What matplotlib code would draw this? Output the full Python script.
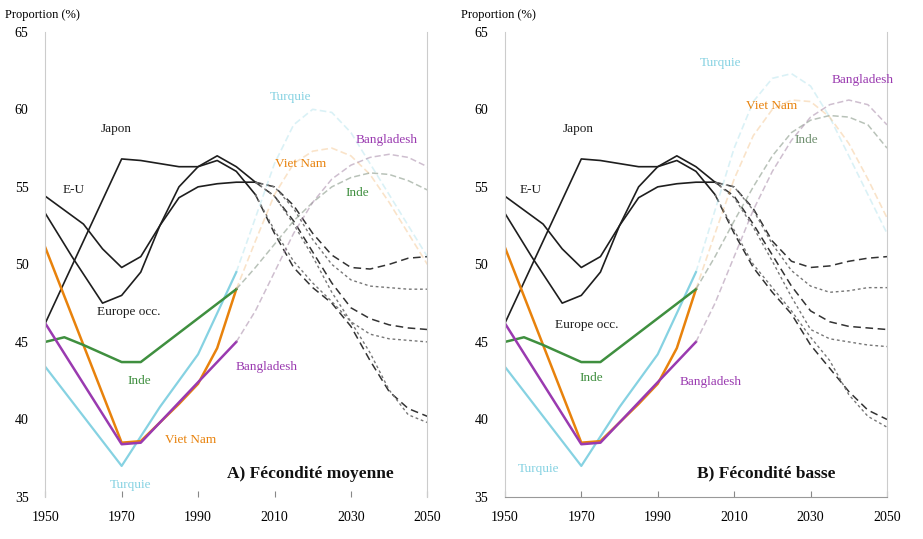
import matplotlib
matplotlib.use("Agg")
import matplotlib.pyplot as plt

plt.rcParams["font.family"] = ["Liberation Serif", "DejaVu Serif"]

# --- observed values (same in both panels) ---
eu_years = [1950, 1960, 1965, 1970, 1975, 1980, 1985, 1990, 1995, 2000, 2005]
eu_vals = [54.4, 52.6, 51.0, 49.8, 50.5, 52.5, 54.3, 55.0, 55.2, 55.3, 55.3]

eur_years = [1950, 1957, 1965, 1970, 1975, 1980, 1985, 1990, 1995, 2000, 2005]
eur_vals = [53.3, 50.5, 47.5, 48.0, 49.5, 52.5, 55.0, 56.3, 57.0, 56.3, 55.3]

jap_years = [1950, 1960, 1970, 1975, 1980, 1985, 1990, 1995, 2000, 2005]
jap_vals = [46.2, 51.5, 56.8, 56.7, 56.5, 56.3, 56.3, 56.7, 56.0, 54.5]

tur_years = [1950, 1970, 1980, 1990, 2000]
tur_vals = [43.4, 37.0, 40.8, 44.2, 49.5]

vn_years = [1950, 1970, 1975, 1985, 1990, 1995, 2000]
vn_vals = [51.1, 38.5, 38.6, 41.0, 42.3, 44.6, 48.4]

inde_years = [1950, 1955, 1960, 1970, 1975, 2000]
inde_vals = [45.0, 45.3, 44.8, 43.7, 43.7, 48.4]

bang_years = [1950, 1970, 1975, 2000]
bang_vals = [46.2, 38.4, 38.5, 45.0]

# --- projections ---
proj_years = [2005, 2010, 2015, 2020, 2025, 2030, 2035, 2040, 2045, 2050]
col_years = [2000, 2005, 2010, 2015, 2020, 2025, 2030, 2035, 2040, 2045, 2050]

# panel A : fecondite moyenne
a_eu_1 = [55.3, 55.0, 53.8, 52.0, 50.6, 49.8, 49.7, 50.0, 50.4, 50.5]
a_eu_2 = [55.3, 55.0, 53.6, 51.6, 50.0, 49.0, 48.6, 48.5, 48.4, 48.4]
a_eur_1 = [55.3, 54.4, 52.8, 50.8, 48.8, 47.2, 46.5, 46.1, 45.9, 45.8]
a_eur_2 = [55.3, 54.4, 52.6, 50.5, 48.2, 46.3, 45.5, 45.2, 45.1, 45.0]
a_jap_1 = [54.5, 52.0, 49.8, 48.5, 47.5, 46.0, 43.8, 41.8, 40.7, 40.2]
a_jap_2 = [54.5, 52.2, 50.2, 48.8, 47.6, 46.3, 44.3, 41.9, 40.3, 39.8]
a_tur = [49.5, 53.0, 56.5, 59.0, 60.0, 59.8, 58.5, 56.5, 54.5, 52.5, 50.5]
a_vn = [48.4, 51.5, 54.5, 56.5, 57.3, 57.5, 57.0, 55.8, 54.0, 52.0, 50.0]
a_inde = [48.4, 49.8, 51.3, 52.8, 54.0, 55.0, 55.6, 55.9, 55.8, 55.4, 54.8]
a_bang = [45.0, 47.0, 49.5, 52.0, 54.0, 55.5, 56.4, 56.9, 57.1, 56.9, 56.3]

# panel B : fecondite basse
b_eu_1 = [55.3, 55.0, 53.6, 51.5, 50.2, 49.8, 49.9, 50.2, 50.4, 50.5]
b_eu_2 = [55.3, 55.0, 53.5, 51.3, 49.6, 48.6, 48.2, 48.3, 48.5, 48.5]
b_eur_1 = [55.3, 54.4, 52.6, 50.6, 48.6, 47.0, 46.3, 46.0, 45.9, 45.8]
b_eur_2 = [55.3, 54.3, 52.4, 50.2, 47.9, 45.8, 45.2, 45.0, 44.8, 44.7]
b_jap_1 = [54.5, 52.0, 49.8, 48.2, 46.8, 44.8, 43.3, 41.8, 40.6, 40.0]
b_jap_2 = [54.5, 52.2, 50.0, 48.5, 47.0, 45.3, 43.8, 41.6, 40.2, 39.5]
b_tur = [49.5, 53.5, 57.5, 60.5, 62.0, 62.3, 61.5, 59.5, 57.0, 54.5, 52.0]
b_vn = [48.4, 52.0, 55.5, 58.3, 60.0, 60.6, 60.5, 59.5, 57.8, 55.5, 53.0]
b_inde = [48.4, 50.5, 52.8, 55.0, 57.0, 58.5, 59.3, 59.6, 59.5, 59.0, 57.5]
b_bang = [45.0, 47.5, 50.5, 53.5, 56.0, 58.0, 59.5, 60.3, 60.6, 60.3, 59.0]

x_ticks = [1950, 1970, 1990, 2010, 2030, 2050]
y_ticks = [35, 40, 45, 50, 55, 60, 65]

c_tur = "#86d2e2"
c_vn = "#e8820c"
c_inde = "#3f8f3f"
c_bang = "#9a3ab0"
c_black = "#1e1e1e"


def draw_panel(ax, proj, labels, title):
    # observed
    ax.plot(eu_years, eu_vals, color=c_black, lw=1.2)
    ax.plot(eur_years, eur_vals, color=c_black, lw=1.2)
    ax.plot(jap_years, jap_vals, color=c_black, lw=1.2)
    ax.plot(tur_years, tur_vals, color=c_tur, lw=1.6)
    ax.plot(vn_years, vn_vals, color=c_vn, lw=1.8)
    ax.plot(inde_years, inde_vals, color=c_inde, lw=1.8)
    ax.plot(bang_years, bang_vals, color=c_bang, lw=1.8)

    # projections of black series
    for k in ["eu", "eur", "jap"]:
        ax.plot(proj_years, proj[k + "_1"], color="#333333", lw=1.1, ls=(0, (5, 3)))
        ax.plot(proj_years, proj[k + "_2"], color="#777777", lw=1.0, ls=(0, (2, 2)))

    # projections of coloured series (pale)
    ax.plot(col_years, proj["tur"], color=c_tur, lw=1.2, ls=(0, (4, 2)), alpha=0.3)
    ax.plot(col_years, proj["vn"], color=c_vn, lw=1.2, ls=(0, (4, 2)), alpha=0.22)
    ax.plot(col_years, proj["inde"], color="#8a9a8a", lw=1.1, ls=(0, (4, 2)), alpha=0.6)
    ax.plot(col_years, proj["bang"], color="#a78aa8", lw=1.1, ls=(0, (4, 2)), alpha=0.55)

    for txt, x, y, col in labels:
        ax.text(x, y, txt, color=col, fontsize=9.5, va="center", ha="left")

    ax.text(title[1], title[2], title[0], fontsize=12.5, fontweight="bold",
            va="center", ha="left", color="#111111")

    ax.set_xlim(1950, 2050)
    ax.set_ylim(35, 65)
    ax.set_xticks(x_ticks)
    ax.set_yticks(y_ticks)
    ax.tick_params(axis="x", direction="in", length=4, color="#888888",
                   labelsize=10, pad=10)
    ax.tick_params(axis="y", length=0, labelsize=10, pad=12)
    ax.spines["top"].set_visible(False)
    for s in ["left", "right", "bottom"]:
        ax.spines[s].set_color("#cccccc")
        ax.spines[s].set_linewidth(0.8)


fig = plt.figure(figsize=(9.23, 5.39), dpi=100)
ax1 = fig.add_axes([0.049, 0.078, 0.414, 0.863])
ax2 = fig.add_axes([0.547, 0.078, 0.414, 0.863])

proj_a = {"eu_1": a_eu_1, "eu_2": a_eu_2, "eur_1": a_eur_1, "eur_2": a_eur_2,
          "jap_1": a_jap_1, "jap_2": a_jap_2, "tur": a_tur, "vn": a_vn,
          "inde": a_inde, "bang": a_bang}
proj_b = {"eu_1": b_eu_1, "eu_2": b_eu_2, "eur_1": b_eur_1, "eur_2": b_eur_2,
          "jap_1": b_jap_1, "jap_2": b_jap_2, "tur": b_tur, "vn": b_vn,
          "inde": b_inde, "bang": b_bang}

labels_a = [
    ("Japon", 1964.4, 58.7, c_black),
    ("E-U", 1954.5, 54.8, c_black),
    ("Europe occ.", 1963.6, 46.9, c_black),
    ("Inde", 1971.5, 42.5, c_inde),
    ("Bangladesh", 1999.7, 43.4, c_bang),
    ("Viet Nam", 1981.4, 38.7, c_vn),
    ("Turquie", 1967.0, 35.8, c_tur),
    ("Turquie", 2008.9, 60.8, c_tur),
    ("Viet Nam", 2010.2, 56.5, c_vn),
    ("Bangladesh", 2031.2, 58.0, c_bang),
    ("Inde", 2028.5, 54.6, c_inde),
]
labels_b = [
    ("Japon", 1965.1, 58.7, c_black),
    ("E-U", 1953.9, 54.8, c_black),
    ("Europe occ.", 1963.0, 46.1, c_black),
    ("Inde", 1969.6, 42.7, c_inde),
    ("Bangladesh", 1995.7, 42.4, c_bang),
    ("Turquie", 1953.5, 36.8, c_tur),
    ("Turquie", 2000.9, 63.0, c_tur),
    ("Viet Nam", 2013.2, 60.2, c_vn),
    ("Inde", 2025.7, 58.0, "#6f8f6f"),
    ("Bangladesh", 2035.6, 61.9, c_bang),
]

draw_panel(ax1, proj_a, labels_a, ("A) Fécondité moyenne", 1997.6, 36.5))
draw_panel(ax2, proj_b, labels_b, ("B) Fécondité basse", 2000.4, 36.5))
ax1.spines["bottom"].set_visible(False)
ax2.spines["bottom"].set_color("#999999")

fig.text(0.005, 0.972, "Proportion (%)", fontsize=9, va="center", ha="left")
fig.text(0.499, 0.972, "Proportion (%)", fontsize=9, va="center", ha="left")

fig.savefig("out.png", dpi=100)
